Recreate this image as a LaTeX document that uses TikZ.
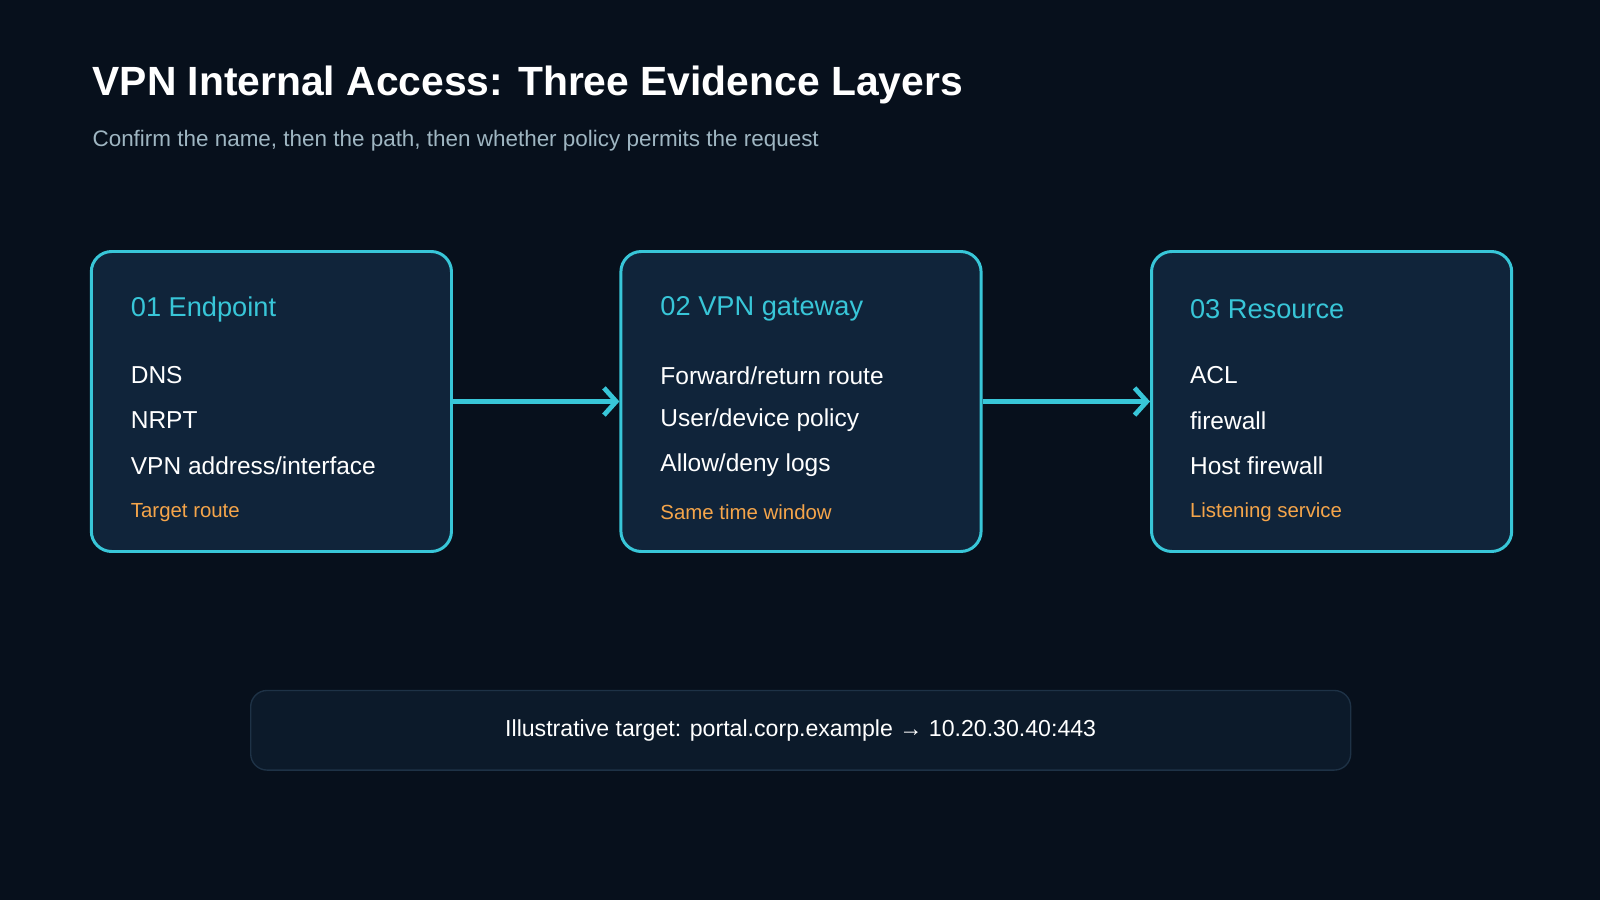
\documentclass[tikz,border=0pt]{standalone}
\usepackage{fontspec}
\setmainfont{Liberation Sans}
\usetikzlibrary{arrows.meta}
\definecolor{bg}{HTML}{07101C}
\definecolor{card}{HTML}{10243A}
\definecolor{cy}{HTML}{38C6D8}
\definecolor{org}{HTML}{F5A54A}
\definecolor{sub}{HTML}{9FB6C2}
\definecolor{note}{HTML}{0C1A2A}
\definecolor{noteb}{HTML}{1E3246}
\begin{document}
\begin{tikzpicture}[x=0.75pt,y=-0.75pt,
 card/.style={draw=cy,line width=2.2pt,fill=card,rounded corners=15pt,minimum width=353*0.75pt,minimum height=294*0.75pt,anchor=north west},
 head/.style={text=cy,font=\fontsize{20}{24}\selectfont,anchor=west},
 item/.style={text=white,font=\fontsize{18}{22}\selectfont,anchor=west},
 tool/.style={text=org,font=\fontsize{15}{18}\selectfont,anchor=west},
 flow/.style={draw=cy,line width=3.5pt,-{Straight Barb[length=9pt,width=20pt,line width=3.5pt]}}]
\fill[bg] (0,0) rectangle (1568,882);
\useasboundingbox (0,0) rectangle (1568,882);
\node[anchor=west,text=white,font=\bfseries\fontsize{30}{36}\selectfont] (title) at (86,83) {VPN Internal Access: Three Evidence Layers};
\node[anchor=west,text=sub,font=\fontsize{16.5}{20}\selectfont] (subt) at (86,138) {Confirm the name, then the path, then whether policy permits the request};
\node[card] (c1) at (88,245) {};
\node[card] (c2) at (607,245) {};
\node[card] (c3) at (1127,245) {};
\foreach \n/\x/\h/\a/\b/\c/\t in {1/128/01 Endpoint/DNS / NRPT/VPN address\slash interface/Target route/ipconfig · nslookup · route,
 2/647/02 VPN gateway/Forward\slash return route/User\slash device policy/Allow\slash deny logs/Same time window,
 3/1166/03 Resource/ACL / firewall/Host firewall/Listening service/Test-NetConnection}{
 \node[head,inner sep=0] (h\n) at (\x,303) {\h};
 \node[item,inner sep=0] (a\n) at (\x,368) {\a};
 \node[item,inner sep=0] (b\n) at (\x,412) {\b};
 \node[item,inner sep=0] (d\n) at (\x,456) {\c};
 \node[tool,inner sep=0] (t\n) at (\x,502) {\t};
}
\draw[flow] (c1.east) -- (c2.west);
\draw[flow] (c2.east) -- (c3.west);
\node[draw=noteb,line width=1pt,fill=note,rounded corners=12pt,minimum width=1078*0.75pt,minimum height=78*0.75pt,anchor=north west] (nb) at (245,676) {};
\node[text=white,font=\fontsize{17}{20}\selectfont] (nt) at (nb.center) {Illustrative target: portal.corp.example → 10.20.30.40:443};
\end{tikzpicture}
\end{document}
